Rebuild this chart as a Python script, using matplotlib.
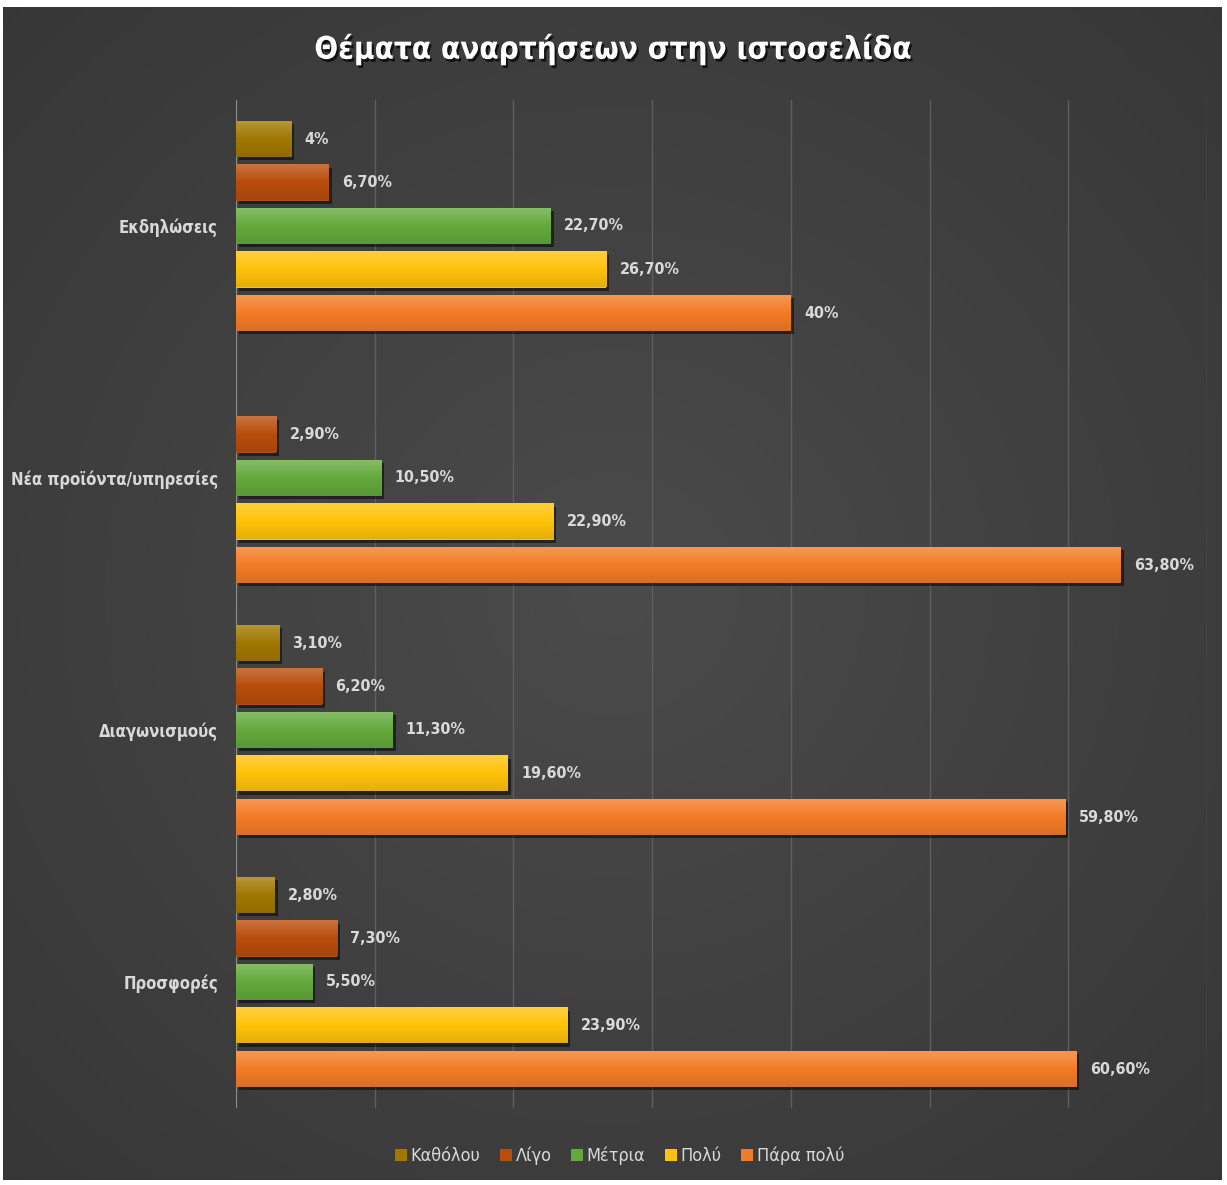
import numpy as np
import matplotlib
matplotlib.use("Agg")
import matplotlib.pyplot as plt
import matplotlib.patheffects as pe
from matplotlib.colors import LinearSegmentedColormap, to_rgb
from matplotlib.lines import Line2D
from matplotlib.font_manager import FontProperties

# ---- data ----
title = "Θέματα αναρτήσεων στην ιστοσελίδα"
categories = ["Εκδηλώσεις", "Νέα προϊόντα/υπηρεσίες", "Διαγωνισμούς", "Προσφορές"]
series_names = ["Καθόλου", "Λίγο", "Μέτρια", "Πολύ", "Πάρα πολύ"]
katholou = [4.0, np.nan, 3.1, 2.8]
ligo = [6.7, 2.9, 6.2, 7.3]
metria = [22.7, 10.5, 11.3, 5.5]
poly = [26.7, 22.9, 19.6, 23.9]
para_poly = [40.0, 63.8, 59.8, 60.6]
series_values = [katholou, ligo, metria, poly, para_poly]
series_colors = ["#A07800", "#B84D0C", "#64A93C", "#FFC20A", "#F37B25"]
x_ticks = [0, 10, 20, 30, 40, 50, 60, 70]

TEXT = "#D9D9D9"


def font(size, weight="bold"):
    return FontProperties(family="DejaVu Sans", stretch="condensed", weight=weight, size=size)


def fmt(v):
    if float(v).is_integer():
        return f"{int(v)}%"
    return f"{v:.2f}%".replace(".", ",")


W, H = 1227, 1185
fig = plt.figure(figsize=(W / 100, H / 100), dpi=100, facecolor="white")

# dark panel with a soft radial gradient
bg = fig.add_axes([3 / W, 1 - 1180 / H, (1222 - 3) / W, (1180 - 7) / H])
bg.set_axis_off()
yy, xx = np.mgrid[0:1:300j, 0:1:300j]
r = np.sqrt(((xx - 0.5) / 0.8) ** 2 + ((yy - 0.5) / 0.8) ** 2)
r = np.clip(r, 0, 1)
inner, outer = np.array(to_rgb("#4B4B4B")), np.array(to_rgb("#343434"))
img = inner[None, None, :] * (1 - r[..., None]) + outer[None, None, :] * r[..., None]
bg.imshow(img, extent=[0, 1, 0, 1], aspect="auto", interpolation="bilinear")
bg.set_xlim(0, 1)
bg.set_ylim(0, 1)

# plot area
ax = fig.add_axes([236 / W, 1 - 1108 / H, (1207 - 236) / W, (1108 - 100) / H])
ax.patch.set_alpha(0)
for s in ax.spines.values():
    s.set_visible(False)
ax.set_xticks(x_ticks)
ax.tick_params(axis="x", length=0, labelbottom=False)
ax.tick_params(axis="y", length=0)
ax.grid(axis="x", color="#5E5E5E", linewidth=1)
ax.set_axisbelow(True)
ax.axvline(0, color="#9A9A9A", linewidth=1.2, zorder=1)

y = np.arange(len(categories))
step = 43.5 / 252
height = 36 / 252
n = len(series_names)

for i, (vals, col) in enumerate(zip(series_values, series_colors)):
    pos = y + (i - (n - 1) / 2) * step
    v = np.asarray(vals, dtype=float)
    ok = ~np.isnan(v)
    bars = ax.barh(pos[ok], v[ok], height=height, color=col, zorder=3,
                   path_effects=[pe.SimplePatchShadow(offset=(2, -2.5), shadow_rgbFace="black", alpha=0.5),
                                 pe.Normal()])
    base = np.array(to_rgb(col))
    light = np.clip(base + (1 - base) * 0.22, 0, 1)
    dark = base * 0.9
    cmap = LinearSegmentedColormap.from_list("g", [light, base, dark])
    grad = np.linspace(0, 1, 64)[:, None]
    for b, val in zip(bars, v[ok]):
        x0, y0, w, h = b.get_x(), b.get_y(), b.get_width(), b.get_height()
        ax.imshow(grad, cmap=cmap, extent=[x0, x0 + w, y0 + h, y0], aspect="auto",
                  interpolation="bilinear", zorder=3.5)
        ax.text(x0 + w + 0.95, y0 + h / 2, fmt(val), va="center", ha="left",
                color=TEXT, fontproperties=font(11.5), zorder=5)

ax.set_xlim(0, 70)
ax.set_ylim(len(categories) - 0.5, -0.5)
ax.set_yticks(y)
ax.set_yticklabels(categories, color=TEXT, fontproperties=font(12))
ax.tick_params(axis="y", pad=13)

# title
fig.text(0.5, 1 - 49 / H, title, ha="center", va="center", color="white",
         fontproperties=font(22.5),
         path_effects=[pe.SimplePatchShadow(offset=(1.5, -2), shadow_rgbFace="black", alpha=0.7), pe.Normal()])

# legend
handles = [Line2D([], [], marker="s", linestyle="none", markersize=9, markerfacecolor=c,
                  markeredgewidth=0) for c in series_colors]
leg = fig.legend(handles, series_names, loc="center", bbox_to_anchor=(618 / W, 1 - 1156 / H),
                 ncol=5, frameon=False, handletextpad=0.05, columnspacing=0.9, handlelength=1.0,
                 prop=font(13, "normal"))
for t in leg.get_texts():
    t.set_color(TEXT)

fig.savefig("out.png", dpi=100, facecolor="white")
